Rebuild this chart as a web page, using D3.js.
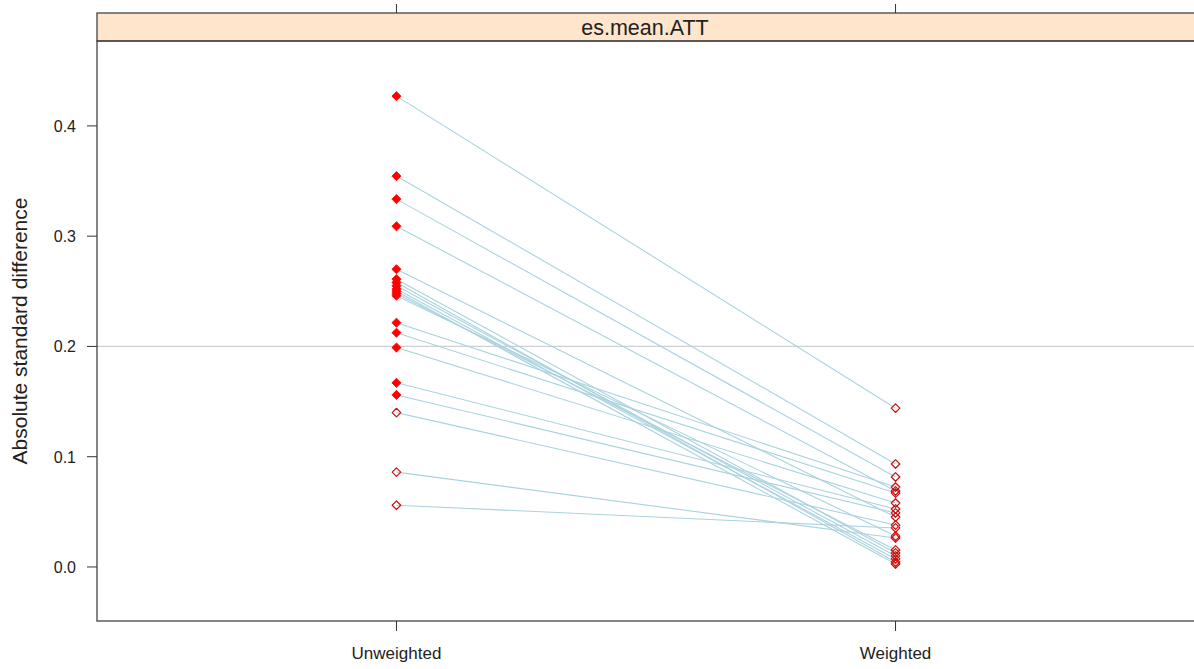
<!DOCTYPE html>
<html>
<head>
<meta charset="utf-8">
<script src="https://cdn.jsdelivr.net/npm/d3@7"></script>
<style>
  body { margin: 0; background: #fff; }
  text { font-family: "Liberation Sans", Arial, sans-serif; fill: #222; }
</style>
</head>
<body>
<svg></svg>
<script>
// groups on the x axis
const groups = ['Unweighted', 'Weighted'];
// absolute standard difference per covariate, before and after weighting
const unweighted = [0.427, 0.3545, 0.3336, 0.309, 0.270, 0.261, 0.258, 0.255, 0.252, 0.250, 0.248, 0.246,
                    0.2215, 0.2124, 0.199, 0.167, 0.156, 0.140, 0.086, 0.056];
const weighted   = [0.144, 0.0934, 0.0816, 0.0689, 0.0453, 0.0127, 0.0045, 0.010, 0.0073, 0.0027, 0.0154, 0.028,
                    0.0725, 0.067, 0.058, 0.0526, 0.049, 0.038, 0.0263, 0.0354];
// significant difference (filled marker) before weighting; none after
const sigUnweighted = [1,1,1,1,1,1,1,1,1,1,1,1,1,1,1,1,1,0,0,0];
const yTicks = [0.0, 0.1, 0.2, 0.3, 0.4];
const refLine = 0.2;
const stripLabel = 'es.mean.ATT';
const yTitle = 'Absolute standard difference';

const W = 1194, H = 669;
const padLeft = 97, padRight = 1195, stripTop = 13, panelTop = 41, panelBottom = 621;

const svg = d3.select('svg')
    .attr('width', W)
    .attr('height', H);

const x = d3.scalePoint()
    .domain(groups)
    .range([padLeft, padRight])
    .padding(0.6);

const y = d3.scaleLinear()
    .domain([-0.049, 0.477])
    .range([panelBottom, panelTop]);

// reference line
svg.append('line')
    .attr('x1', padLeft).attr('x2', padRight)
    .attr('y1', y(refLine)).attr('y2', y(refLine))
    .style('stroke', '#d0d0d0')
    .style('stroke-width', 1.2);

// connecting lines
const pairs = unweighted.map((u, i) => ({u: u, w: weighted[i], sig: sigUnweighted[i]}));

svg.append('g').selectAll('line')
    .data(pairs)
    .join('line')
    .attr('x1', x('Unweighted'))
    .attr('x2', x('Weighted'))
    .attr('y1', d => y(d.u))
    .attr('y2', d => y(d.w))
    .style('stroke', '#a9d3df')
    .style('stroke-width', 1.1);

// markers
const diamond = (cx, cy, r) => `M${cx},${cy - r}L${cx + r},${cy}L${cx},${cy + r}L${cx - r},${cy}Z`;

const pts = [];
pairs.forEach(p => {
    pts.push({g: 'Unweighted', v: p.u, sig: p.sig});
    pts.push({g: 'Weighted', v: p.w, sig: 0});
});

svg.append('g').selectAll('path')
    .data(pts)
    .join('path')
    .attr('d', d => diamond(x(d.g), y(d.v), d.sig ? 4.6 : 4.3))
    .attr('fill', d => d.sig ? '#ff0000' : 'none')
    .attr('stroke', d => d.sig ? '#ff0000' : '#cc1010')
    .attr('stroke-width', d => d.sig ? 0.8 : 1.2)
    .attr('stroke-linejoin', 'round');

// strip
svg.append('rect')
    .attr('x', padLeft).attr('y', stripTop)
    .attr('width', padRight - padLeft).attr('height', panelTop - stripTop)
    .attr('fill', '#ffe5cc')
    .attr('stroke', '#444')
    .attr('stroke-width', 1.3);

svg.append('text')
    .text(stripLabel)
    .attr('x', (padLeft + padRight) / 2 - 1)
    .attr('y', stripTop + 22)
    .attr('text-anchor', 'middle')
    .attr('font-size', '21.5px');

// panel border
svg.append('rect')
    .attr('x', padLeft).attr('y', panelTop)
    .attr('width', padRight - padLeft).attr('height', panelBottom - panelTop)
    .attr('fill', 'none')
    .attr('stroke', '#444')
    .attr('stroke-width', 1.3);

// y axis
svg.append('g').selectAll('line')
    .data(yTicks)
    .join('line')
    .attr('x1', padLeft - 10).attr('x2', padLeft)
    .attr('y1', d => y(d)).attr('y2', d => y(d))
    .style('stroke', '#333');

svg.append('g').selectAll('text')
    .data(yTicks)
    .join('text')
    .text(d => d.toFixed(1))
    .attr('x', padLeft - 21)
    .attr('y', d => y(d) + 6)
    .attr('text-anchor', 'end')
    .attr('font-size', '16px');

svg.append('text')
    .text(yTitle)
    .attr('transform', `translate(27,${(panelTop + panelBottom) / 2}) rotate(-90)`)
    .attr('text-anchor', 'middle')
    .attr('font-size', '21px');

// x axis, ticks on top and bottom
groups.forEach(g => {
    svg.append('line')
        .attr('x1', x(g)).attr('x2', x(g))
        .attr('y1', panelBottom).attr('y2', panelBottom + 10)
        .style('stroke', '#333');
    svg.append('line')
        .attr('x1', x(g)).attr('x2', x(g))
        .attr('y1', stripTop - 9).attr('y2', stripTop)
        .style('stroke', '#333');
});

svg.append('g').selectAll('text')
    .data(groups)
    .join('text')
    .text(d => d)
    .attr('x', d => x(d))
    .attr('y', 659)
    .attr('text-anchor', 'middle')
    .attr('font-size', '17px');
</script>
</body>
</html>
